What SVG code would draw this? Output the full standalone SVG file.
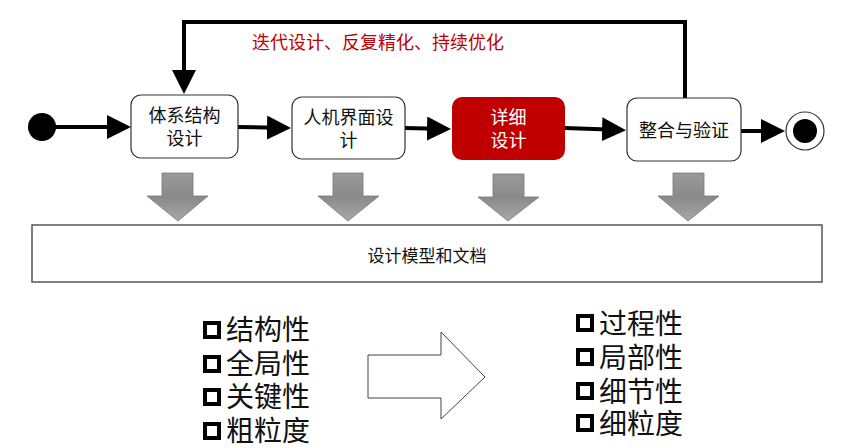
<svg xmlns="http://www.w3.org/2000/svg" width="861" height="448" viewBox="0 0 861 448">
<style>
text{font-family:"Noto Sans CJK SC","Noto Sans",sans-serif;}
.box{fill:#fff;stroke:#333;stroke-width:1.2;}
.lbl{font-size:18px;fill:#111;text-anchor:middle;}
.conn{stroke:#000;stroke-width:4;fill:none;}
.chk{fill:none;stroke:#000;stroke-width:4;}
.li{font-size:28px;fill:#111;}
.down{fill:url(#g);stroke:#777;stroke-width:0.8;}
</style>
<defs>
<marker id="ah" markerWidth="6" markerHeight="6" refX="5" refY="3" orient="auto" markerUnits="strokeWidth">
<path d="M0,0 L6,3 L0,6 z" fill="#000"/>
</marker>
<linearGradient id="g" x1="0" y1="0" x2="0" y2="1">
<stop offset="0" stop-color="#9a9a9a"/>
<stop offset="0.5" stop-color="#8a8a8a"/>
<stop offset="1" stop-color="#a8a8a8"/>
</linearGradient>
</defs>
<g id="connectors">
<line class="conn" x1="55" y1="127" x2="127" y2="127" marker-end="url(#ah)"/>
<line class="conn" x1="238" y1="127" x2="287" y2="128" marker-end="url(#ah)"/>
<line class="conn" x1="405" y1="128" x2="447" y2="129" marker-end="url(#ah)"/>
<line class="conn" x1="565" y1="128" x2="622" y2="130" marker-end="url(#ah)"/>
<line class="conn" x1="741" y1="131" x2="781" y2="131" marker-end="url(#ah)"/>
<polyline class="conn" points="685,98 685,22 184,22 184,90" marker-end="url(#ah)"/>
</g>
<text x="252" y="49" font-size="18" fill="#C00000">迭代设计、反复精化、持续优化</text>
<g id="start"><circle cx="42" cy="127" r="14" fill="#000"/></g>
<g id="n1"><rect class="box" x="131" y="95" width="107" height="63" rx="10"/>
<text class="lbl" x="184.5" y="122">体系结构</text><text class="lbl" x="184.5" y="145">设计</text></g>
<g id="n2"><rect class="box" x="292" y="97" width="113" height="62" rx="10"/>
<text class="lbl" x="348.5" y="124">人机界面设</text><text class="lbl" x="348.5" y="147">计</text></g>
<g id="n3"><rect x="452" y="97" width="113" height="63" rx="10" fill="#C00000"/>
<text class="lbl" x="508.5" y="124" style="fill:#fff">详细</text><text class="lbl" x="508.5" y="147" style="fill:#fff">设计</text></g>
<g id="n4"><rect class="box" x="627" y="98" width="114" height="63" rx="10"/>
<text class="lbl" x="684" y="137">整合与验证</text></g>
<g id="end"><circle cx="805" cy="131" r="19" fill="#fff" stroke="#333" stroke-width="1.2"/><circle cx="805" cy="131" r="12" fill="#000"/></g>
<g id="downarrows">
<path class="down" d="M162,173 H193 V196 H208 L178,221 L147,196 H162 Z"/>
<path class="down" d="M333,173 H363 V196 H379 L348,221 L318,196 H333 Z"/>
<path class="down" d="M493,174 H524 V197 H539 L508,221 L478,197 H493 Z"/>
<path class="down" d="M673,173 H704 V196 H719 L688,221 L658,196 H673 Z"/>
</g>
<g id="docs"><rect x="32" y="225" width="790" height="57" fill="#fff" stroke="#555" stroke-width="1.5"/>
<text x="427" y="262" font-size="17" fill="#111" text-anchor="middle">设计模型和文档</text></g>
<g id="leftlist">
<rect class="chk" x="205" y="323" width="14" height="14"/><text class="li" x="226" y="340">结构性</text>
<rect class="chk" x="205" y="357" width="14" height="14"/><text class="li" x="226" y="374">全局性</text>
<rect class="chk" x="205" y="390" width="14" height="14"/><text class="li" x="226" y="407">关键性</text>
<rect class="chk" x="205" y="424" width="14" height="14"/><text class="li" x="226" y="441">粗粒度</text>
</g>
<g id="bigarrow"><path d="M368,355 H441 V332 L485,377 L441,419 V398 H368 Z" fill="#fff" stroke="#444" stroke-width="1"/></g>
<g id="rightlist">
<rect class="chk" x="578" y="316" width="14" height="14"/><text class="li" x="599" y="334">过程性</text>
<rect class="chk" x="578" y="350" width="14" height="14"/><text class="li" x="599" y="368">局部性</text>
<rect class="chk" x="578" y="384" width="14" height="14"/><text class="li" x="599" y="402">细节性</text>
<rect class="chk" x="578" y="416" width="14" height="14"/><text class="li" x="599" y="434">细粒度</text>
</g>
</svg>
